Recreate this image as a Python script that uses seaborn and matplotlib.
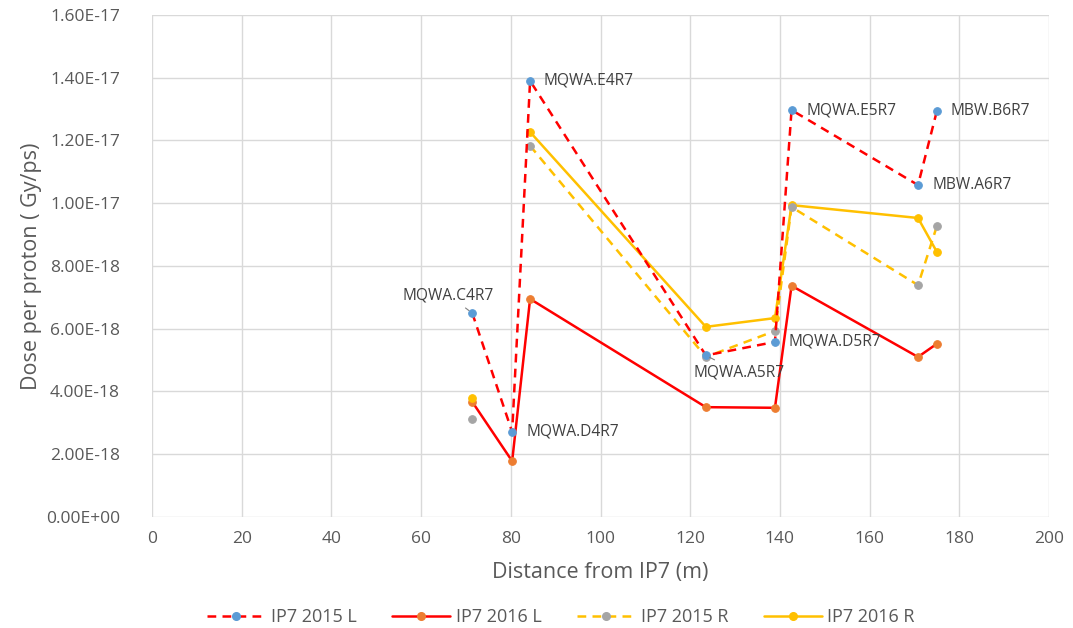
import numpy as np
import pandas as pd
import matplotlib
matplotlib.use("Agg")
import matplotlib.pyplot as plt
import seaborn as sns
from matplotlib.lines import Line2D
from matplotlib.ticker import FuncFormatter, MultipleLocator

# Distance of each element from IP7 (m)
distance = [71.4, 80.3, 84.3, 123.5, 138.9, 142.6, 170.8, 175.0]
elements = ["MQWA.C4R7", "MQWA.D4R7", "MQWA.E4R7", "MQWA.A5R7",
            "MQWA.D5R7", "MQWA.E5R7", "MBW.A6R7", "MBW.B6R7"]

# Dose per proton (Gy/ps); NaN = no measurement
ip7_2015_L = [6.50e-18, 2.71e-18, 1.39e-17, 5.15e-18, 5.58e-18, 1.297e-17, 1.058e-17, 1.294e-17]
ip7_2016_L = [3.67e-18, 1.78e-18, 6.95e-18, 3.50e-18, 3.48e-18, 7.37e-18, 5.10e-18, 5.52e-18]
ip7_2015_R = [3.12e-18, np.nan, 1.183e-17, 5.10e-18, 5.93e-18, 9.88e-18, 7.39e-18, 9.27e-18]
ip7_2016_R = [3.79e-18, np.nan, 1.227e-17, 6.06e-18, 6.34e-18, 9.94e-18, 9.53e-18, 8.45e-18]

series = {
    "IP7 2015 L": ip7_2015_L,
    "IP7 2016 L": ip7_2016_L,
    "IP7 2015 R": ip7_2015_R,
    "IP7 2016 R": ip7_2016_R,
}

# line colour, marker colour, dashed?
styles = {
    "IP7 2015 L": ("#FF0000", "#5B9BD5", True),
    "IP7 2016 L": ("#FF0000", "#ED7D31", False),
    "IP7 2015 R": ("#FFC000", "#A5A5A5", True),
    "IP7 2016 R": ("#FFC000", "#FFC000", False),
}

rows = []
for name, vals in series.items():
    seg = 0
    for d, v in zip(distance, vals):
        if np.isnan(v):
            seg += 1
            continue
        rows.append({"series": name, "distance": d, "dose": v, "seg": seg})
df = pd.DataFrame(rows)

sns.set_style("white")
plt.rcParams["font.family"] = ["Open Sans", "DejaVu Sans"]

fig = plt.figure(figsize=(10.73, 6.28), dpi=100)
ax = fig.add_axes([0.1417, 0.1768, 0.8359, 0.7993])

order = ["IP7 2016 L", "IP7 2016 R", "IP7 2015 R", "IP7 2015 L"]
handles = {}
for name in order:
    lc, mc, dashed = styles[name]
    sub = df[df["series"] == name]
    ls = (0, (3.5, 2.5)) if dashed else "-"
    sns.lineplot(data=sub, x="distance", y="dose", units="seg", estimator=None,
                 ax=ax, color=lc, linewidth=1.8, linestyle=ls, marker="o",
                 markersize=5.5, markerfacecolor=mc, markeredgecolor=mc,
                 sort=False, legend=False)
    handles[name] = Line2D([], [], color=lc, lw=1.8, linestyle=ls, marker="o",
                           markersize=5.5, markerfacecolor=mc, markeredgecolor=mc)

# element labels next to the 2015 L points
label_offsets = {
    "MQWA.C4R7": (-24, 18, "center", True),
    "MQWA.D4R7": (14, 0, "left", False),
    "MQWA.E4R7": (13, 0, "left", False),
    "MQWA.A5R7": (33, -17, "center", True),
    "MQWA.D5R7": (14, 0, "left", False),
    "MQWA.E5R7": (15, 0, "left", False),
    "MBW.A6R7": (14, 0, "left", False),
    "MBW.B6R7": (14, 0, "left", False),
}
for el, d, v in zip(elements, distance, ip7_2015_L):
    dx, dy, ha, leader = label_offsets[el]
    ap = dict(arrowstyle="-", color="#7f7f7f", lw=0.8, shrinkA=2, shrinkB=3) if leader else None
    ax.annotate(el, (d, v), xytext=(dx * 0.72, dy * 0.72), textcoords="offset points",
                ha=ha, va="center", fontsize=11.2, color="#404040", arrowprops=ap)

ax.set_xlim(0, 200)
ax.set_ylim(0, 1.6e-17)
ax.xaxis.set_major_locator(MultipleLocator(20))
ax.yaxis.set_major_locator(MultipleLocator(2e-18))
ax.yaxis.set_major_formatter(FuncFormatter(lambda v, p: f"{v:.2E}"))
ax.yaxis.get_offset_text().set_visible(False)
ax.grid(True, color="#d9d9d9", lw=1)
ax.set_axisbelow(True)
for s in ax.spines.values():
    s.set_visible(False)
ax.tick_params(axis="both", length=0, labelsize=12.5, labelcolor="#595959")
ax.tick_params(axis="y", pad=23)
ax.tick_params(axis="x", pad=10)

ax.set_xlabel("Distance from IP7 (m)", fontsize=15.5, color="#595959", labelpad=11)
ax.set_ylabel("Dose per proton ( Gy/ps)", fontsize=15.5, color="#595959", labelpad=3)

leg_names = ["IP7 2015 L", "IP7 2016 L", "IP7 2015 R", "IP7 2016 R"]
fig.legend([handles[n] for n in leg_names], leg_names, loc="center",
           bbox_to_anchor=(0.523, 0.017), ncol=4, frameon=False, fontsize=13,
           handlelength=3.2, handletextpad=0.3, columnspacing=2.0,
           labelcolor="#595959")

fig.savefig("out.png", dpi=100)
